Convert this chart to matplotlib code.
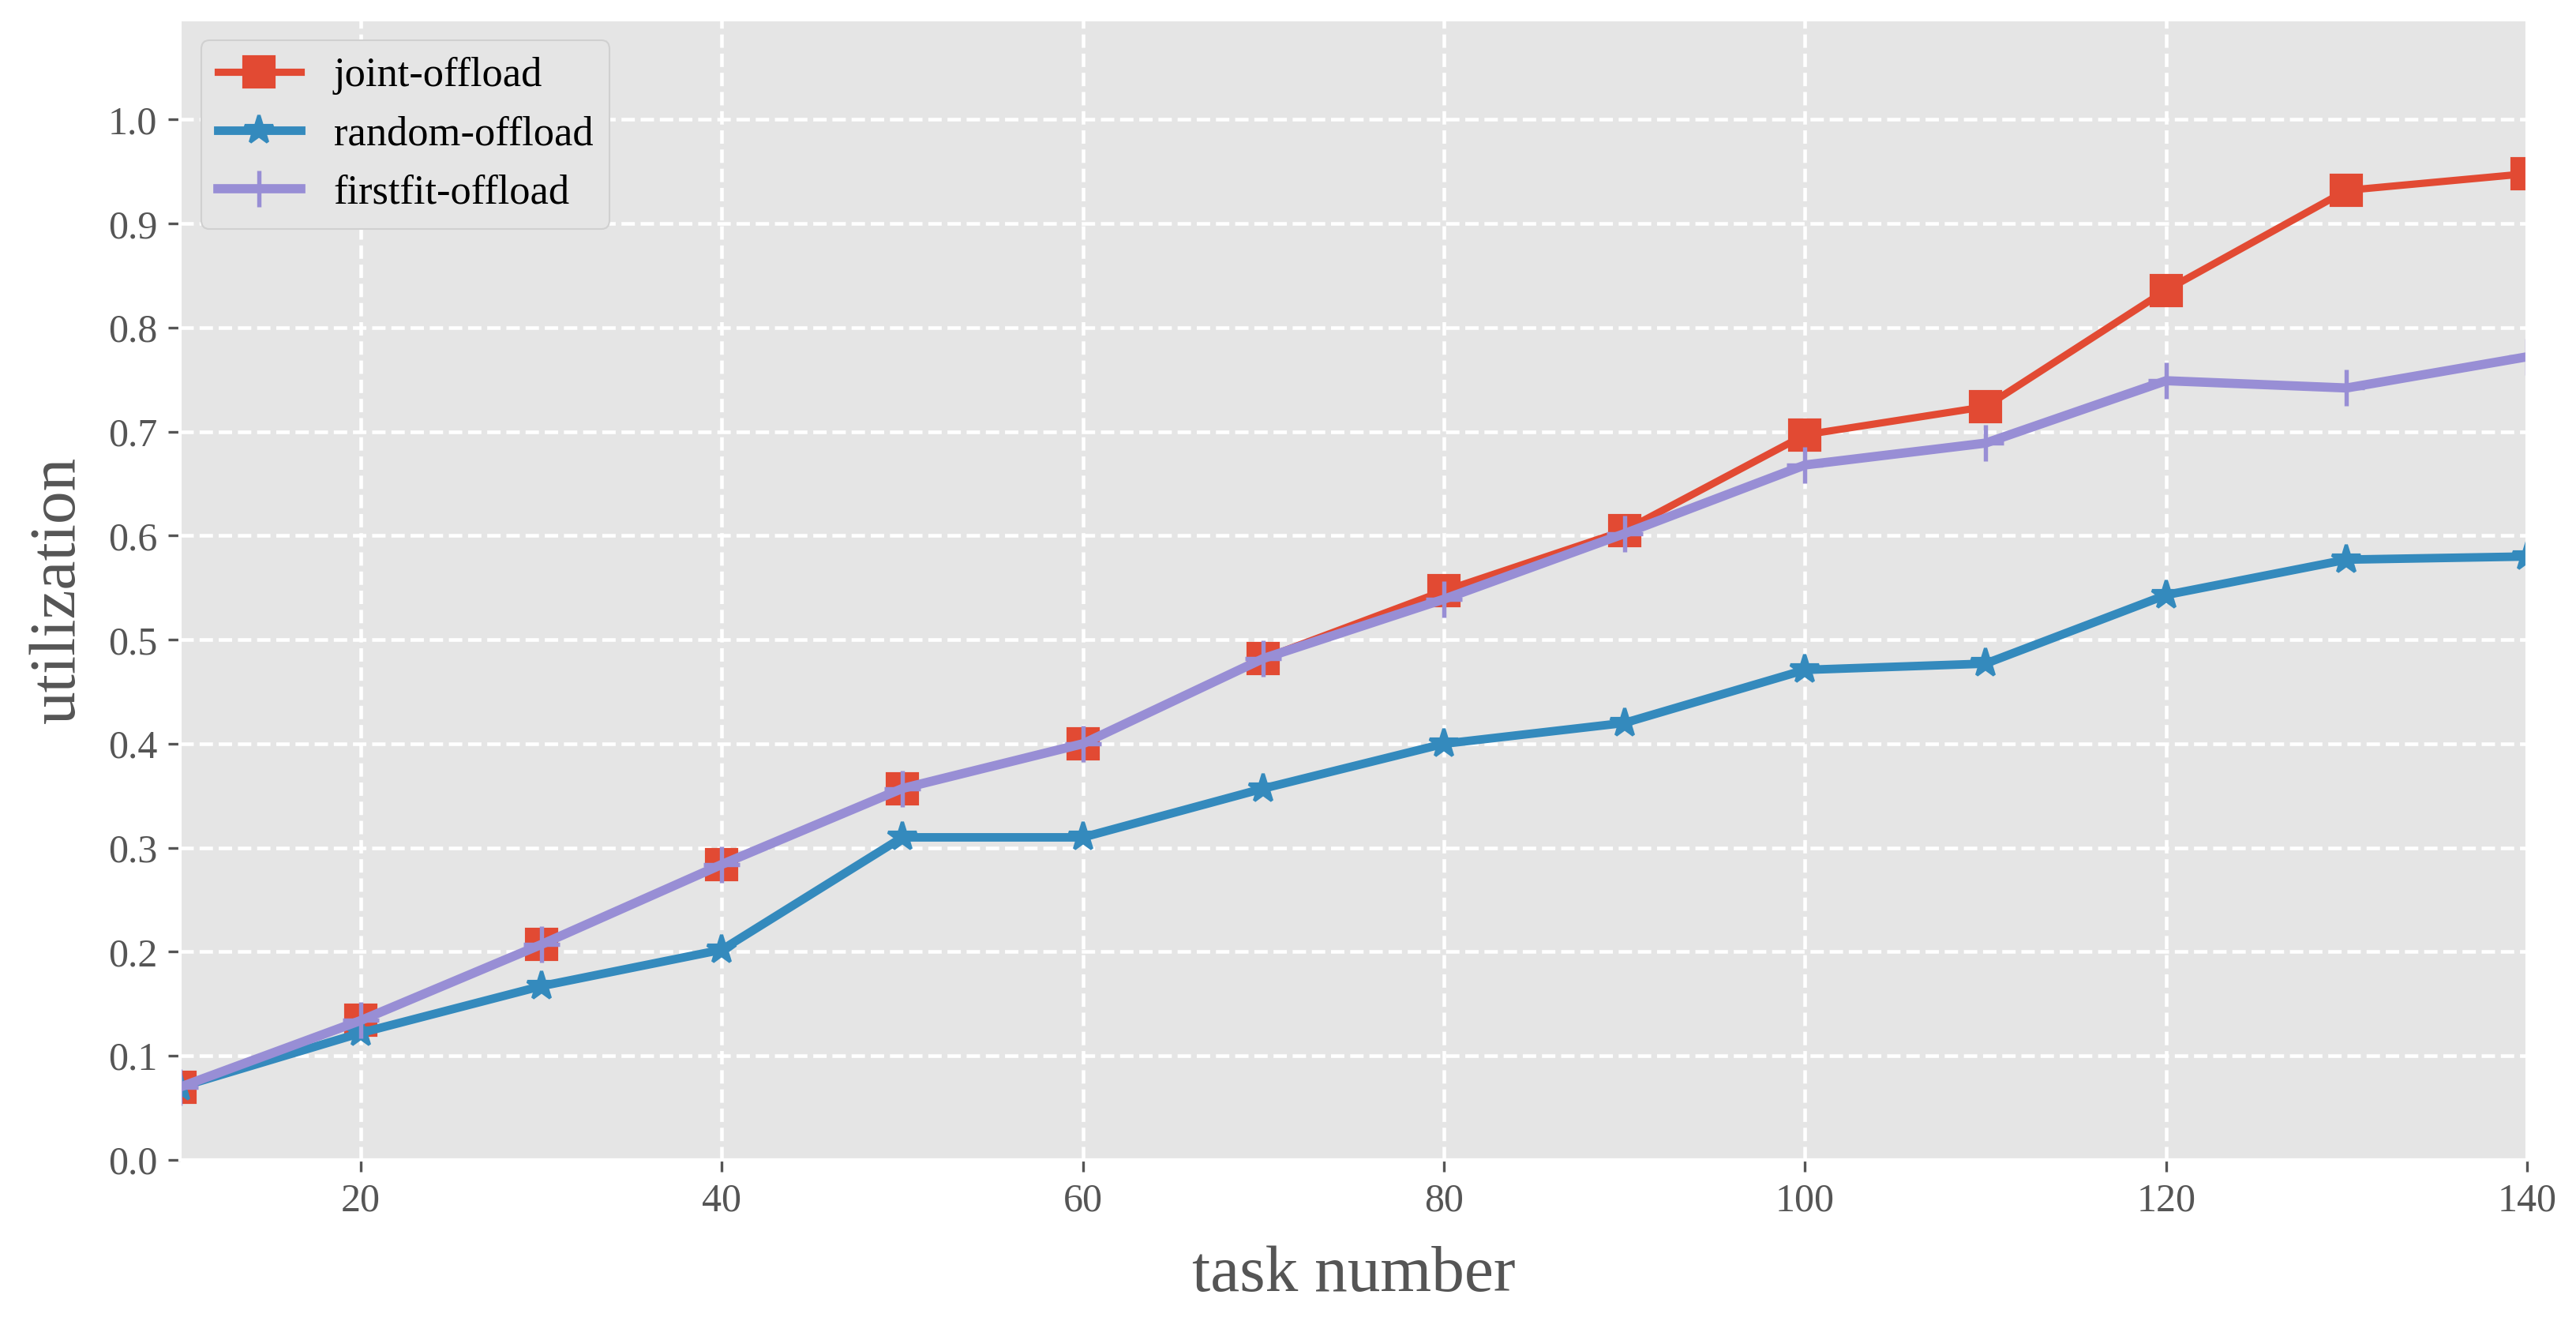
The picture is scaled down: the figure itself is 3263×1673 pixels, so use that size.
#!/usr/bin/env python

"""Utilization vs. task number for three offloading strategies."""

import matplotlib
matplotlib.use("Agg")
import matplotlib.pyplot as plt
from matplotlib.ticker import MultipleLocator

task_number = [10, 20, 30, 40, 50, 60, 70, 80, 90, 100, 110, 120, 130, 140]
joint_offload = [0.070, 0.134, 0.207, 0.284, 0.357, 0.400, 0.482, 0.547,
                 0.605, 0.697, 0.724, 0.836, 0.932, 0.948]
random_offload = [0.070, 0.122, 0.167, 0.202, 0.310, 0.310, 0.357, 0.400,
                  0.420, 0.471, 0.477, 0.543, 0.577, 0.580]
firstfit_offload = [0.070, 0.134, 0.207, 0.284, 0.357, 0.400, 0.482, 0.539,
                    0.602, 0.668, 0.689, 0.749, 0.742, 0.772]

plt.style.use("ggplot")
plt.rcParams["font.family"] = ["Liberation Serif", "DejaVu Serif"]

fig = plt.figure(figsize=(10.877, 5.577), dpi=300)
ax = fig.add_axes([0.070, 0.122, 0.911, 0.863])

ax.plot(task_number, joint_offload, color="#E24A33", marker="s",
        markersize=9, linewidth=2.2, label="joint-offload")
ax.plot(task_number, random_offload, color="#348ABD", marker="*",
        markersize=9, linewidth=2.6, label="random-offload")
ax.plot(task_number, firstfit_offload, color="#988ED5", marker="+",
        markersize=11, markeredgewidth=1.3, linewidth=2.8,
        label="firstfit-offload")

ax.set_xlim(10, 140)
ax.set_ylim(0, 1.096)
ax.yaxis.set_major_locator(MultipleLocator(0.1))
ax.grid(True, color="white", linestyle="--", linewidth=1.1)

ax.tick_params(labelsize=12, colors="#555555")
ax.set_xlabel("task number", fontsize=20, color="#555555", labelpad=8)
ax.set_ylabel("utilization", fontsize=20, color="#555555", labelpad=6)

leg = ax.legend(loc="upper left", fontsize=12.6, facecolor="#E5E5E5",
                edgecolor="#D0D0D0", framealpha=1.0)
for text in leg.get_texts():
    text.set_color("black")

plt.savefig("out.png", dpi=300)
